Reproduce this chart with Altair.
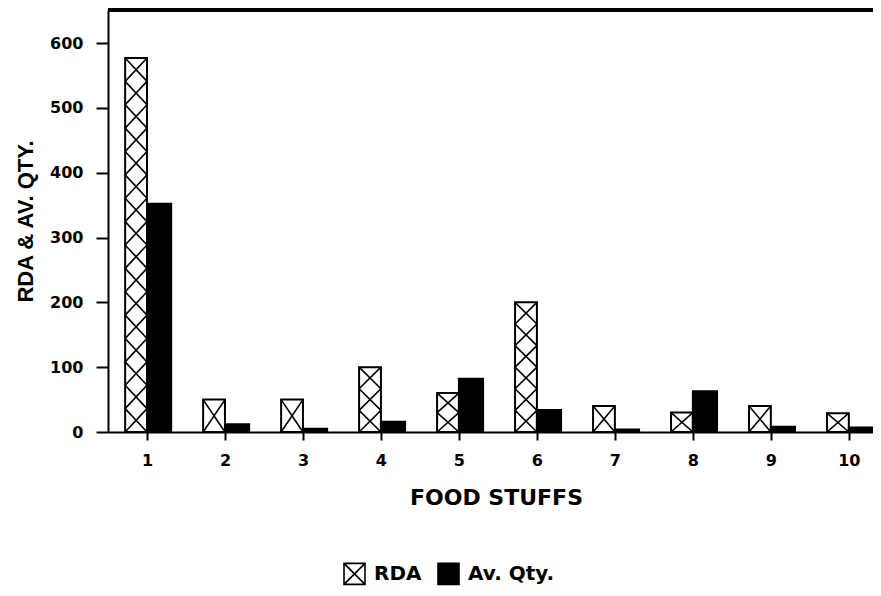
import altair as alt
import pandas as pd

# ---- data ----
categories = [1, 2, 3, 4, 5, 6, 7, 8, 9, 10]
rda = [577, 50, 50, 100, 60, 200, 40, 30, 40, 29]
av_qty = [352, 12, 5, 16, 82, 34, 4, 63, 8, 7]
series_names = ["RDA", "Av. Qty."]
y_ticks = [0, 100, 200, 300, 400, 500, 600]

RDA_W = 0.28
AV_W = 0.31

rows = []
for c, r, a in zip(categories, rda, av_qty):
    rows.append({"cat": c, "series": "RDA", "x0": c - RDA_W, "x1": c, "value": r})
    rows.append({"cat": c, "series": "Av. Qty.", "x0": c, "x1": c + AV_W, "value": a})
bars_df = pd.DataFrame(rows)

# cross-hatch lines for the RDA bars, derived from the RDA values
hatch = []
for c, r in zip(categories, rda):
    n = max(1, round(r / 36))
    h = r / n
    for k in range(n):
        y0, y1 = k * h, (k + 1) * h
        hatch.append({"x": c - RDA_W, "y": y0, "x2": c, "y2": y1})
        hatch.append({"x": c, "y": y0, "x2": c - RDA_W, "y2": y1})
hatch_df = pd.DataFrame(hatch)

xscale = alt.Scale(domain=[0.5, 10.31], nice=False, zero=False)
yscale = alt.Scale(domain=[0, 651], nice=False)

legend_path = "M-1,-1H1V1H-1Z M-1,-1L1,1 M1,-1L-1,1"

bars = alt.Chart(bars_df).mark_rect(stroke="black", strokeWidth=2).encode(
    x=alt.X("x0:Q", scale=xscale,
            axis=alt.Axis(values=categories, format="d", title="FOOD STUFFS",
                          grid=False, domainColor="black", domainWidth=2,
                          tickColor="black", tickWidth=2, tickSize=8,
                          labelFont="DejaVu Sans", labelFontWeight="bold",
                          labelFontSize=16, labelColor="black", labelPadding=12,
                          titleFont="DejaVu Sans", titleFontWeight="bold",
                          titleFontSize=22, titleColor="black",
                          titleX=388, titleY=72, titleBaseline="alphabetic",
                          titleAlign="center")),
    x2="x1:Q",
    y=alt.Y("value:Q", scale=yscale,
            axis=alt.Axis(values=y_ticks, title="RDA & AV. QTY.", grid=False,
                          domainColor="black", domainWidth=2,
                          tickColor="black", tickWidth=2, tickSize=12,
                          labelFont="DejaVu Sans", labelFontWeight="bold",
                          labelFontSize=16, labelColor="black", labelPadding=13,
                          titleFont="Liberation Sans", titleFontWeight="bold",
                          titleFontSize=22, titleColor="black",
                          titleAngle=270, titleX=-83, titleY=211,
                          titleBaseline="middle", titleAlign="center")),
    y2=alt.datum(0),
    fill=alt.Fill("series:N",
                  scale=alt.Scale(domain=series_names, range=["white", "black"]),
                  legend=alt.Legend(orient="none", legendX=235, legendY=552,
                                    direction="horizontal", title=None,
                                    symbolType=legend_path, symbolSize=440,
                                    symbolStrokeColor="black", symbolStrokeWidth=1.6,
                                    labelFont="DejaVu Sans", labelFontWeight="bold",
                                    labelFontSize=20, labelColor="black",
                                    labelOffset=8, columnPadding=12, padding=0)),
)

hatch_lines = alt.Chart(hatch_df).mark_rule(color="black", strokeWidth=1.6).encode(
    x=alt.X("x:Q", scale=xscale),
    x2="x2:Q",
    y=alt.Y("y:Q", scale=yscale),
    y2="y2:Q",
)

top_line = alt.Chart(bars_df).mark_rule(color="black", strokeWidth=2.5).encode(
    y=alt.value(0)
)

chart = alt.layer(bars, hatch_lines, top_line).properties(
    width=765,
    height=422,
    autosize=alt.AutoSizeParams(type="none"),
    padding={"left": 100, "top": 2, "right": 0, "bottom": 154},
    background="white",
).configure_view(stroke=None)

chart.save("out.html", embed_options={"renderer": "svg", "actions": False})
